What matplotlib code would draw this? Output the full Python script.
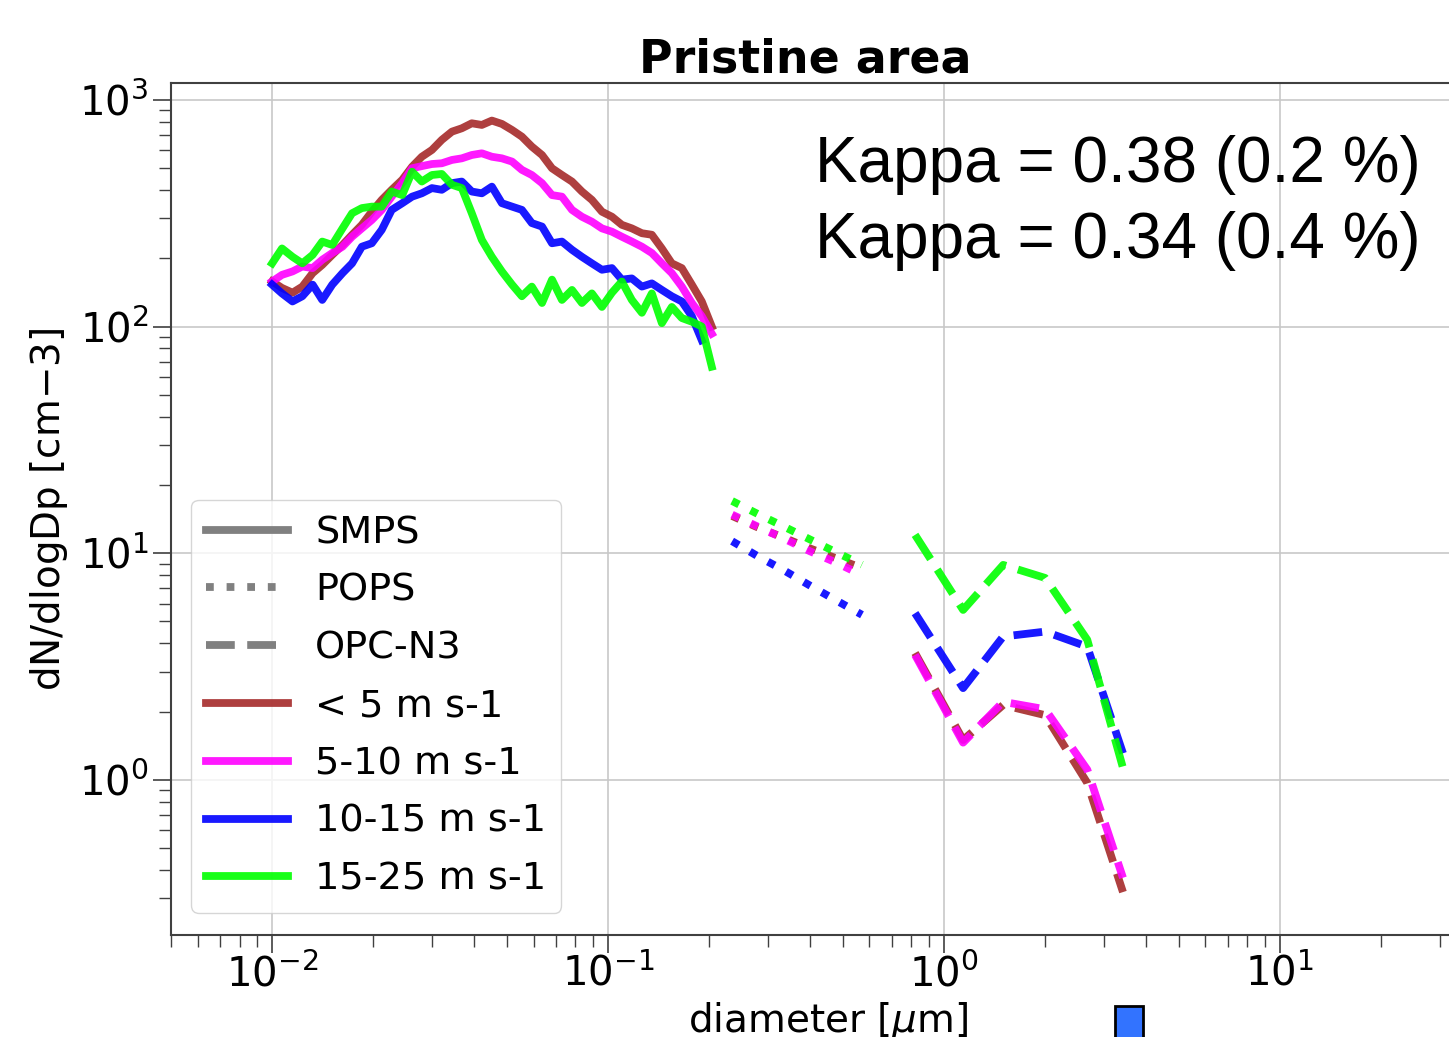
import matplotlib
matplotlib.use('agg')
import matplotlib.pyplot as plt
from matplotlib.lines import Line2D
from matplotlib.patches import Rectangle

# wind speed classes
labels = ['< 5 m s-1', '5-10 m s-1', '10-15 m s-1', '15-25 m s-1']
colors = ['#a52a2a', '#ff00ff', '#0000ff', '#00ff00']

# SMPS size distribution (diameter in um)
smps_dp = [0.0100, 0.0107, 0.0115, 0.0123, 0.0132, 0.0141, 0.0151, 0.0162, 0.0173,
           0.0185, 0.0198, 0.0212, 0.0227, 0.0244, 0.0261, 0.0279, 0.0299, 0.0320,
           0.0343, 0.0367, 0.0393, 0.0421, 0.0451, 0.0483, 0.0518, 0.0554, 0.0593,
           0.0636, 0.0681, 0.0729, 0.0781, 0.0836, 0.0895, 0.0959, 0.1027, 0.1099,
           0.1177, 0.1261, 0.1350, 0.1446, 0.1548, 0.1658, 0.1776, 0.1901, 0.2036]
smps_lt5 = [158, 148, 141, 150, 172, 187, 207, 229, 254, 281, 321, 362, 401, 444, 507,
            561, 601, 666, 724, 749, 788, 775, 810, 783, 736, 688, 622, 571, 499, 466,
            436, 394, 362, 321, 305, 281, 271, 258, 254, 221, 190, 181, 153, 129, 100]
smps_5_10 = [158, 169, 175, 184, 181, 197, 211, 225, 249, 271, 295, 327, 374, 429, 499,
             510, 521, 525, 543, 552, 571, 581, 561, 552, 534, 491, 466, 429, 380, 374,
             327, 305, 290, 271, 262, 249, 237, 225, 211, 190, 172, 150, 127, 111, 93]
smps_10_15 = [153, 140, 129, 136, 153, 131, 153, 172, 190, 225, 233, 267, 327, 350, 374,
              387, 408, 401, 429, 436, 394, 387, 414, 350, 338, 327, 286, 276, 233, 237,
              218, 203, 190, 178, 181, 161, 163, 150, 155, 145, 136, 129, 111, 87]
smps_15_25 = [190, 221, 203, 190, 207, 237, 229, 271, 316, 333, 338, 338, 394, 380, 482,
              436, 466, 471, 422, 408, 316, 241, 203, 175, 153, 136, 150, 127, 161, 131,
              145, 127, 140, 122, 141, 158, 131, 115, 140, 103.5, 122, 109, 105, 100, 66.5]

# POPS
pops_dp = [0.234, 0.279, 0.334, 0.399, 0.477, 0.570]
pops_lt5 = [14.6, 13.0, 11.7, 10.5, 9.5, 8.6]
pops_5_10 = [14.8, 13.1, 11.6, 10.2, 9.1, 8.0]
pops_10_15 = [11.3, 9.7, 8.4, 7.2, 6.2, 5.35]
pops_15_25 = [17.0, 14.9, 13.1, 11.5, 10.1, 8.9]

# OPC-N3
opc_dp = [0.82, 1.14, 1.50, 2.00, 2.67, 3.41]
opc_lt5 = [3.63, 1.50, 2.14, 1.93, 0.97, 0.32]
opc_5_10 = [3.56, 1.46, 2.21, 2.05, 1.11, 0.37]
opc_10_15 = [5.44, 2.54, 4.29, 4.51, 3.87, 1.31]
opc_15_25 = [12.05, 5.62, 8.88, 7.78, 4.15, 1.13]

smps = [smps_lt5, smps_5_10, smps_10_15, smps_15_25]
pops = [pops_lt5, pops_5_10, pops_10_15, pops_15_25]
opc = [opc_lt5, opc_5_10, opc_10_15, opc_15_25]

LW = 5.6

fig = plt.figure(figsize=(14.49, 10.37), dpi=100)
ax = fig.add_axes([0.118, 0.0984, 0.884, 0.8216])

for ys, c in zip(smps, colors):
    ax.plot(smps_dp[:len(ys)], ys, color=c, lw=LW, alpha=0.9, ls='-')
for ys, c in zip(pops, colors):
    ax.plot(pops_dp, ys, color=c, lw=LW, alpha=0.9, ls=':')
for ys, c in zip(opc, colors):
    ax.plot(opc_dp, ys, color=c, lw=LW, alpha=0.9, ls='--')

ax.set_xscale('log')
ax.set_yscale('log')
ax.set_xlim(0.005, 32.5)
ax.set_ylim(0.207, 1187)
ax.grid(True, which='major', color='#c8c8c8', lw=1.2)
ax.set_axisbelow(True)

for s in ax.spines.values():
    s.set_color('#404040')
    s.set_linewidth(1.5)

ax.tick_params(which='major', labelsize=29, length=13, width=1.2, color='#404040')
ax.tick_params(which='minor', length=8.5, width=1.0, color='#404040')
ax.tick_params(axis='x', which='major', pad=1)
ax.tick_params(axis='y', which='major', pad=3)

ax.set_title('Pristine area', fontsize=33, fontweight='bold', x=0.495, pad=6)
ax.set_xlabel(r'diameter [$\mu$m]', fontsize=28)
ax.set_ylabel('dN/dlogDp [cm$-$3]', fontsize=28)
ax.xaxis.set_label_coords(0.513, -0.076)
ax.yaxis.set_label_coords(-0.079, 0.5)

ax.text(0.5027, 0.8838, 'Kappa = 0.38 (0.2 %)', transform=ax.transAxes,
        fontsize=46, family='Liberation Sans', va='baseline', ha='left')
ax.text(0.5027, 0.7946, 'Kappa = 0.34 (0.4 %)', transform=ax.transAxes,
        fontsize=46, family='Liberation Sans', va='baseline', ha='left')

handles = [Line2D([], [], color='gray', lw=LW, ls='-'),
           Line2D([], [], color='gray', lw=LW, ls=':'),
           Line2D([], [], color='gray', lw=LW, ls='--')]
handles += [Line2D([], [], color=c, lw=LW, alpha=0.9) for c in colors]
leg = ax.legend(handles, ['SMPS', 'POPS', 'OPC-N3'] + labels, loc='lower left',
                bbox_to_anchor=(0.0156, 0.0258), borderaxespad=0, fontsize=27.5,
                handlelength=2.15, handletextpad=0.7, labelspacing=0.57)

# small blue marker at the bottom edge
fig.patches.append(Rectangle((0.7695, -0.01), 0.0193, 0.0399, transform=fig.transFigure,
                             facecolor='#3273ff', edgecolor='black', lw=2))

fig.savefig('out.png', dpi=100)
